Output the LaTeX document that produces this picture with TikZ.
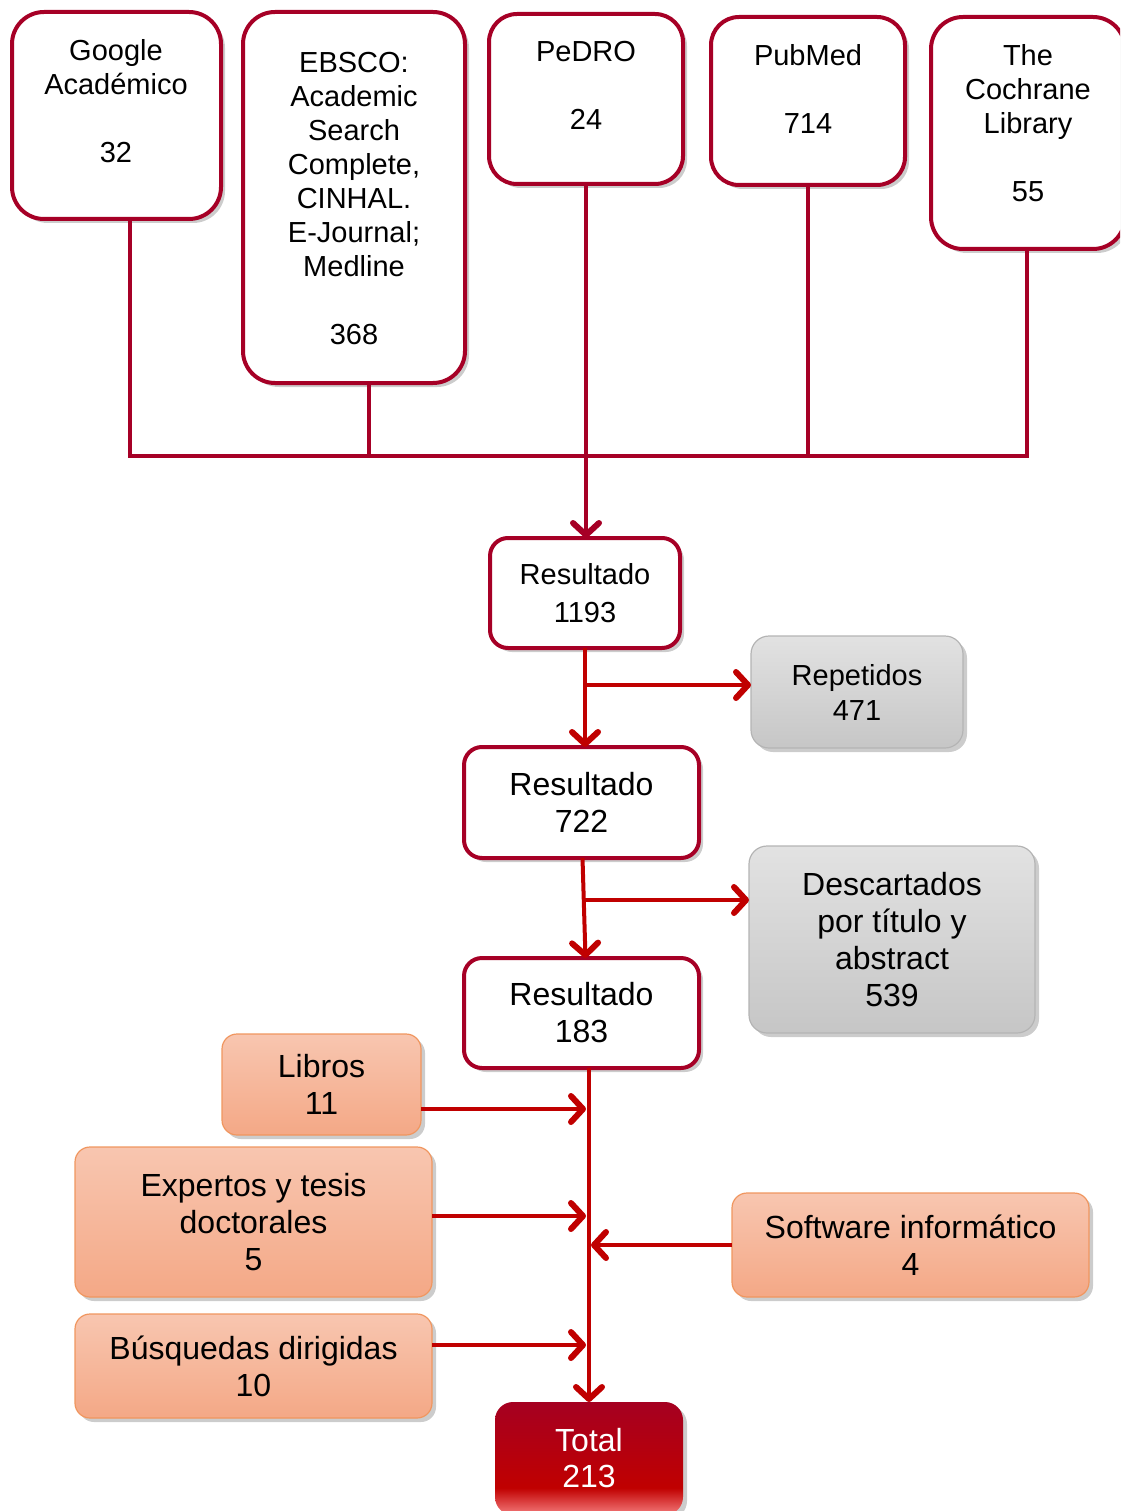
\documentclass[tikz,border=0pt]{standalone}
\usepackage{fontspec}
\setmainfont{Liberation Sans}
\usetikzlibrary{arrows.meta,shadows,calc}
\definecolor{topred}{RGB}{166,0,38}
\definecolor{arrred}{RGB}{192,0,0}
\definecolor{graytop}{RGB}{226,226,226}
\definecolor{graybot}{RGB}{198,198,198}
\definecolor{grayline}{RGB}{180,180,180}
\definecolor{orgtop}{RGB}{248,198,176}
\definecolor{orgbot}{RGB}{244,168,134}
\definecolor{orgline}{RGB}{240,150,95}
\definecolor{totdark}{RGB}{165,0,33}
\definecolor{totred}{RGB}{192,0,0}
\definecolor{totlight}{RGB}{245,125,125}
\pgfdeclareverticalshading{totshade}{100bp}{color(0bp)=(totlight); color(25bp)=(totlight); color(37bp)=(totred); color(75bp)=(totdark); color(100bp)=(totdark)}
\begin{document}
\begin{tikzpicture}[x=1pt,y=-1pt,
  shd/.style={drop shadow={shadow xshift=4pt,shadow yshift=-4pt,fill=black,opacity=0.2}},
  bigfont/.style={font=\fontsize{32pt}{37pt}\selectfont},
  smallfont/.style={font=\fontsize{29pt}{38pt}\selectfont},
  topbox/.style={draw=topred,line width=4pt,fill=white,rounded corners=32pt,inner sep=0pt,outer sep=0pt,shd},
  toptext/.style={align=center,inner sep=0pt,font=\fontsize{29pt}{34pt}\selectfont},
  resbox/.style={draw=topred,line width=4pt,fill=white,rounded corners=18pt,inner sep=0pt,outer sep=0pt,align=center,bigfont,shd},
  graybox/.style={draw=grayline,line width=1.2pt,top color=graytop,bottom color=graybot,rounded corners=18pt,inner sep=0pt,outer sep=0pt,align=center,bigfont,shd},
  orgbox/.style={draw=orgline,line width=1.2pt,top color=orgtop,bottom color=orgbot,rounded corners=15pt,inner sep=0pt,outer sep=0pt,align=center,bigfont,shd},
  totbox/.style={shading=totshade,rounded corners=18pt,inner sep=0pt,outer sep=0pt,align=center,text=white,font=\fontsize{32pt}{36pt}\selectfont,shd},
  topline/.style={draw=topred,line width=3.5pt,line cap=rect},
  toparr/.style={draw=topred,line width=4pt,-{Straight Barb[length=12pt,width=26pt,line width=6pt,round]}},
  arr/.style={draw=arrred,line width=4pt,-{Straight Barb[length=12pt,width=26pt,line width=6pt,round]}}
]
\useasboundingbox (0,0) rectangle (1120,1511);
\clip (0,0) rectangle (1120,1511);

% top boxes
\node[topbox,minimum width=209pt,minimum height=207pt] (g) at (116.5,115.5) {};
\node[toptext] (gt) at (116,101.5) {Google\\Académico\\[34pt]32};
\node[topbox,minimum width=222pt,minimum height=371pt] (e) at (354,197.5) {};
\node[toptext] (et) at (354,198.5) {EBSCO:\\Academic\\Search\\Complete,\\CINHAL.\\E-Journal;\\Medline\\[34pt]368};
\node[topbox,minimum width=194pt,minimum height=170pt,rounded corners=28pt] (p) at (586,99) {};
\node[toptext] (pt) at (586,85.5) {PeDRO\\[34pt]24};
\node[topbox,minimum width=194pt,minimum height=168pt,rounded corners=28pt] (pm) at (808,101) {};
\node[toptext] (pmt) at (808,88.5) {PubMed\\[34pt]714};
\node[topbox,minimum width=194pt,minimum height=232pt] (c) at (1028,133) {};
\node[toptext] (ct) at (1028,123.5) {The\\Cochrane\\Library\\[34pt]55};

% junction
\coordinate (jg) at (130,456);
\coordinate (je) at (369,456);
\coordinate (jm) at (808,456);
\coordinate (jc) at (1027,456);
\draw[topline] (g.south -| jg) -- (jg);
\draw[topline] (e.south -| je) -- (je);
\draw[topline] (pm.south -| jm) -- (jm);
\draw[topline] (c.south -| jc) -- (jc);
\draw[topline] (jg) -- (jc);

% results
\node[resbox,smallfont,minimum width=190pt,minimum height=110pt] (r1) at (585,593) {Resultado\\1193};
\node[graybox,font=\fontsize{29pt}{35pt}\selectfont,minimum width=212pt,minimum height=112pt] (rep) at (857,692) {Repetidos\\471};
\node[resbox,minimum width=235pt,minimum height=111pt] (r2) at (581.5,802.5) {Resultado\\722};
\node[graybox,minimum width=286pt,minimum height=187pt] (desc) at (892,939.5) {Descartados\\por título y\\abstract\\539};
\node[resbox,minimum width=235pt,minimum height=110pt] (r3) at (581.5,1013) {Resultado\\183};

\node[orgbox,minimum width=199pt,minimum height=101pt] (lib) at (321.5,1084.5) {Libros\\11};
\node[orgbox,minimum width=357pt,minimum height=150pt] (exp) at (253.5,1222) {Expertos y tesis\\doctorales\\5};
\node[orgbox,minimum width=357pt,minimum height=104pt] (soft) at (910.5,1245) {Software informático\\4};
\node[orgbox,minimum width=357pt,minimum height=104pt] (bus) at (253.5,1366) {Búsquedas dirigidas\\10};
\node[totbox,minimum width=188pt,minimum height=113pt] (tot) at (589,1458.5) {Total\\213};

% arrows
\draw[toparr] (p.south) -- (p.south |- r1.north);
\draw[arr] (r1.south) -- (r1.south |- r2.north);
\coordinate (b1) at (585,685);
\draw[arr] (b1) -- (b1 -| rep.west);
\draw[arr] ($(r2.south)+(1,0)$) -- ($(r3.north)+(4,0)$);
\coordinate (b2) at (585,900);
\draw[arr] (b2) -- (b2 -| desc.west);
\draw[arr] (r3.south -| tot.north) -- (tot.north);

\coordinate (a1) at (586,1109);
\coordinate (a2) at (586,1216);
\coordinate (a3) at (591,1245);
\coordinate (a4) at (586,1345);
\draw[arr] (lib.east |- a1) -- (a1);
\draw[arr] (exp.east |- a2) -- (a2);
\draw[arr] (soft.west |- a3) -- (a3);
\draw[arr] (bus.east |- a4) -- (a4);
\end{tikzpicture}
\end{document}
